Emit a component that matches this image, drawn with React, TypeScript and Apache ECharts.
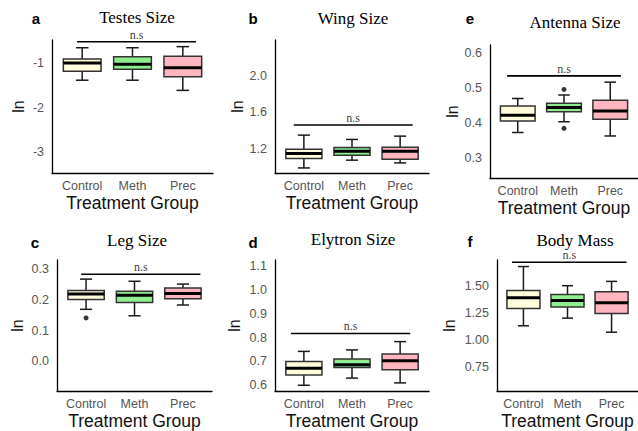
import React, { useEffect, useRef } from 'react';
import * as echarts from 'echarts';

// ---------- DATA ----------
const categories = ['Control', 'Meth', 'Prec'];

// each box: [lower whisker, Q1, median, Q3, upper whisker]
const testesBoxes = [
  [-1.38, -1.175, -0.99, -0.9, -0.645],
  [-1.38, -1.13, -1.02, -0.85, -0.645],
  [-1.61, -1.3, -1.1, -0.84, -0.62],
];
const wingBoxes = [
  [0.995, 1.098, 1.153, 1.2, 1.353],
  [1.08, 1.134, 1.178, 1.219, 1.306],
  [1.05, 1.09, 1.178, 1.22, 1.342],
];
const antennaBoxes = [
  [0.372, 0.405, 0.422, 0.448, 0.47],
  [0.403, 0.432, 0.444, 0.456, 0.48],
  [0.362, 0.41, 0.434, 0.465, 0.517],
];
const legBoxes = [
  [0.169, 0.201, 0.219, 0.23, 0.267],
  [0.148, 0.191, 0.215, 0.228, 0.26],
  [0.183, 0.203, 0.22, 0.238, 0.251],
];
const elytronBoxes = [
  [0.6, 0.643, 0.671, 0.7, 0.742],
  [0.63, 0.675, 0.686, 0.71, 0.748],
  [0.61, 0.665, 0.703, 0.731, 0.783],
];
const massBoxes = [
  [1.133, 1.293, 1.394, 1.461, 1.684],
  [1.204, 1.307, 1.369, 1.424, 1.506],
  [1.073, 1.247, 1.348, 1.449, 1.546],
];

// outliers: [category position, value]
const antennaOutliers = [[2, 0.496], [2, 0.384]];
const legOutliers = [[1, 0.141]];

// significance bars: [x start, x end, y]
const testesSig = [0.9, 3.26, -0.51];
const wingSig = [0.79, 3.26, 1.463];
const antennaSig = [0.77, 3.23, 0.535];
const legSig = [0.9, 3.36, 0.283];
const elytronSig = [0.73, 3.21, 0.817];
const massSig = [0.74, 3.34, 1.724];

const sigLabel = 'n.s';
const yAxisName = 'ln';
const xAxisName = 'Treatment Group';

// ---------- STYLE / LAYOUT ----------
const fills = ['#FFFDDB', '#90EE90', '#FFB6C1'];
const sans = 'Liberation Sans, Arial, sans-serif';
const serif = 'Liberation Serif, Times New Roman, serif';

interface Panel {
  letter: string;
  title: string;
  boxes: number[][];
  outliers: number[][];
  sig: number[];
  grid: { left: number; top: number; width: number; height: number };
  yMin: number;
  yMax: number;
  step: number;
  dec: number;
  nameGap: number;
  titlePos: [number, number];
  letterPos: [number, number];
}

const panels: Panel[] = [
  {
    letter: 'a', title: 'Testes Size', boxes: testesBoxes, outliers: [], sig: testesSig,
    grid: { left: 52, top: 40, width: 161, height: 133 },
    yMin: -3.48, yMax: -0.47, step: 1, dec: 0, nameGap: 26,
    titlePos: [137, 17], letterPos: [36, 18],
  },
  {
    letter: 'b', title: 'Wing Size', boxes: wingBoxes, outliers: [], sig: wingSig,
    grid: { left: 275, top: 40, width: 154, height: 133 },
    yMin: 0.94, yMax: 2.39, step: 0.4, dec: 1, nameGap: 30,
    titlePos: [353, 18], letterPos: [253, 18],
  },
  {
    letter: 'e', title: 'Antenna Size', boxes: antennaBoxes, outliers: antennaOutliers, sig: antennaSig,
    grid: { left: 490, top: 45, width: 155, height: 133 },
    yMin: 0.241, yMax: 0.624, step: 0.1, dec: 1, nameGap: 29,
    titlePos: [575, 22], letterPos: [470, 18],
  },
  {
    letter: 'c', title: 'Leg Size', boxes: legBoxes, outliers: legOutliers, sig: legSig,
    grid: { left: 57, top: 260, width: 155, height: 133 },
    yMin: -0.096, yMax: 0.329, step: 0.1, dec: 1, nameGap: 32,
    titlePos: [137, 240], letterPos: [35, 242],
  },
  {
    letter: 'd', title: 'Elytron Size', boxes: elytronBoxes, outliers: [], sig: elytronSig,
    grid: { left: 275, top: 260, width: 154, height: 131 },
    yMin: 0.576, yMax: 1.125, step: 0.1, dec: 1, nameGap: 33,
    titlePos: [353, 239], letterPos: [253, 242],
  },
  {
    letter: 'f', title: 'Body Mass', boxes: massBoxes, outliers: [], sig: massSig,
    grid: { left: 497, top: 260, width: 147, height: 133 },
    yMin: 0.526, yMax: 1.745, step: 0.25, dec: 2, nameGap: 40,
    titlePos: [575, 240], letterPos: [470, 241],
  },
];

const renderBox = (params: any, api: any) => {
  const x = api.value(0);
  const lo = api.value(1);
  const q1 = api.value(2);
  const med = api.value(3);
  const q3 = api.value(4);
  const hi = api.value(5);
  const pLo = api.coord([x, lo]);
  const pQ1 = api.coord([x, q1]);
  const pMed = api.coord([x, med]);
  const pQ3 = api.coord([x, q3]);
  const pHi = api.coord([x, hi]);
  const unit = api.size([1, 0])[0];
  const bw = (unit * 0.75) / 2;
  const cw = (unit * 0.25) / 2;
  const cx = pMed[0];
  const stroke = '#1a1a1a';
  const lw = 1.5;
  return {
    type: 'group',
    children: [
      { type: 'line', shape: { x1: cx, y1: pHi[1], x2: cx, y2: pQ3[1] }, style: { stroke, lineWidth: lw } },
      { type: 'line', shape: { x1: cx, y1: pQ1[1], x2: cx, y2: pLo[1] }, style: { stroke, lineWidth: lw } },
      { type: 'line', shape: { x1: cx - cw, y1: pHi[1], x2: cx + cw, y2: pHi[1] }, style: { stroke, lineWidth: lw } },
      { type: 'line', shape: { x1: cx - cw, y1: pLo[1], x2: cx + cw, y2: pLo[1] }, style: { stroke, lineWidth: lw } },
      {
        type: 'rect',
        shape: { x: cx - bw, y: pQ3[1], width: bw * 2, height: pQ1[1] - pQ3[1] },
        style: { fill: fills[params.dataIndex], stroke: '#333', lineWidth: lw },
      },
      { type: 'line', shape: { x1: cx - bw, y1: pMed[1], x2: cx + bw, y2: pMed[1] }, style: { stroke: '#000', lineWidth: 3 } },
    ],
  };
};

const isMultiple = (v: number, step: number) => {
  const k = v / step;
  return Math.abs(k - Math.round(k)) < 1e-6;
};

function buildOption() {
  const grid: any[] = [];
  const xAxis: any[] = [];
  const yAxis: any[] = [];
  const series: any[] = [];
  const graphic: any[] = [];

  panels.forEach((p, i) => {
    grid.push({ ...p.grid, containLabel: false });
    xAxis.push({
      type: 'value',
      gridIndex: i,
      min: 0.4,
      max: 3.6,
      minInterval: 1,
      maxInterval: 1,
      splitLine: { show: false },
      axisTick: { show: false },
      axisLine: { show: true, onZero: false, lineStyle: { color: '#000', width: 1.3 } },
      axisLabel: {
        show: true,
        showMinLabel: false,
        showMaxLabel: false,
        margin: 6,
        color: '#555',
        fontFamily: sans,
        fontSize: 12.5,
        formatter: (v: number) => {
          const k = Math.round(v);
          return Math.abs(v - k) < 1e-6 && k >= 1 && k <= 3 ? categories[k - 1] : '';
        },
      },
      name: xAxisName,
      nameLocation: 'middle',
      nameGap: 21,
      nameTextStyle: { color: '#111', fontFamily: sans, fontSize: 17.5 },
    });
    yAxis.push({
      type: 'value',
      gridIndex: i,
      min: p.yMin,
      max: p.yMax,
      minInterval: p.step,
      maxInterval: p.step,
      splitLine: { show: false },
      axisTick: { show: false },
      axisLine: { show: true, onZero: false, lineStyle: { color: '#000', width: 1.3 } },
      axisLabel: {
        showMinLabel: false,
        showMaxLabel: false,
        margin: 8,
        color: '#555',
        fontFamily: sans,
        fontSize: 12.5,
        formatter: (v: number) => (isMultiple(v, p.step) ? v.toFixed(p.dec) : ''),
      },
      name: yAxisName,
      nameLocation: 'middle',
      nameRotate: 90,
      nameGap: p.nameGap,
      nameTextStyle: { color: '#111', fontFamily: sans, fontSize: 16 },
    });

    series.push({
      type: 'custom',
      xAxisIndex: i,
      yAxisIndex: i,
      renderItem: renderBox,
      encode: { x: 0, y: [1, 2, 3, 4, 5] },
      data: p.boxes.map((b, k) => [k + 1, ...b]),
      z: 3,
    });
    if (p.outliers.length) {
      series.push({
        type: 'scatter',
        xAxisIndex: i,
        yAxisIndex: i,
        symbol: 'circle',
        symbolSize: 5,
        itemStyle: { color: '#000' },
        data: p.outliers,
        z: 4,
      });
    }
    const [sx0, sx1, sy] = p.sig;
    series.push({
      type: 'line',
      xAxisIndex: i,
      yAxisIndex: i,
      symbol: 'none',
      lineStyle: { color: '#000', width: 1.6 },
      data: [[sx0, sy], [sx1, sy]],
      z: 4,
    });
    series.push({
      type: 'scatter',
      xAxisIndex: i,
      yAxisIndex: i,
      symbolSize: 0,
      data: [[(sx0 + sx1) / 2, sy]],
      label: {
        show: true,
        position: 'top',
        distance: 1,
        formatter: sigLabel,
        color: '#000',
        fontFamily: serif,
        fontSize: 12,
      },
      z: 4,
    });

    graphic.push({
      type: 'text',
      x: p.titlePos[0],
      y: p.titlePos[1],
      style: {
        text: p.title,
        fill: '#000',
        font: `17px ${serif}`,
        textAlign: 'center',
        textVerticalAlign: 'middle',
      },
    });
    graphic.push({
      type: 'text',
      x: p.letterPos[0],
      y: p.letterPos[1],
      style: {
        text: p.letter,
        fill: '#000',
        font: `bold 15px ${sans}`,
        textAlign: 'center',
        textVerticalAlign: 'middle',
      },
    });
  });

  return {
    animation: false,
    backgroundColor: '#fff',
    grid,
    xAxis,
    yAxis,
    series,
    graphic,
  };
}

export default function App() {
  const ref = useRef<HTMLDivElement>(null);
  useEffect(() => {
    if (!ref.current) return;
    const chart = echarts.init(ref.current, undefined, { renderer: 'svg' });
    chart.setOption(buildOption() as any);
    return () => chart.dispose();
  }, []);
  return (
    <div
      ref={ref}
      style={{ position: 'fixed', left: 0, top: 0, width: 638, height: 431 }}
    />
  );
}
